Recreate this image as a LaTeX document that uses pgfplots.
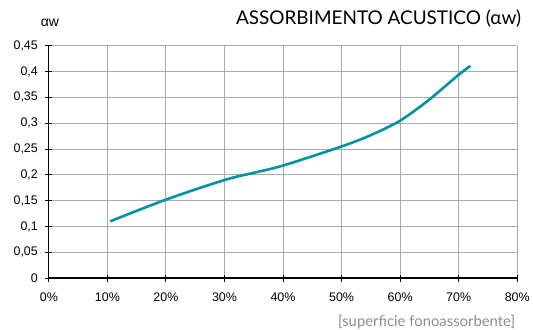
\documentclass[border=0pt]{standalone}
\usepackage{fontspec}
\setmainfont{Lato}
\newfontfamily\tickfont{Liberation Sans}
\usepackage{pgfplots}
\pgfplotsset{compat=1.18}
\usetikzlibrary{calc}
\definecolor{teal1}{RGB}{0,148,158}
\definecolor{gridg}{RGB}{170,170,170}
\begin{document}
\begin{tikzpicture}
\begin{axis}[
  scale only axis,
  width=470bp, height=233bp,
  xmin=0, xmax=80, ymin=0, ymax=0.45,
  xtick={0,10,...,80},
  ytick={0,0.05,...,0.46},
  axis x line=bottom, axis y line=left,
  axis line style={-, black, line width=1.2bp},
  grid=major,
  major grid style={gridg, line width=0.9bp},
  tick align=center,
  major tick length=7bp,
  tick style={black, line width=1bp},
  /pgf/number format/assume math mode=true,
  /pgf/number format/use comma,
  ticklabel style={font=\tickfont\fontsize{12.5bp}{14bp}\selectfont},
  xticklabel={\pgfmathprintnumber{\tick}\%},
  xticklabel style={yshift=-8bp},
  yticklabel style={/pgf/number format/fixed, xshift=-4bp},
  clip=false,
]
\addplot[teal1, line width=2.6bp, smooth, tension=0.5] coordinates {
(10.5,0.110) (20,0.152) (30,0.190) (35,0.204) (40,0.218) (50,0.255) (55,0.277) (60,0.305) (65,0.346) (70,0.394) (72,0.411)
};
\end{axis}
\node[anchor=base east, inner sep=0pt, font=\fontsize{19bp}{22bp}\selectfont] at ($(current axis.north east)+(4bp,21bp)$) {ASSORBIMENTO ACUSTICO (αw)};
\node[anchor=base, inner sep=0pt, font=\tickfont\fontsize{14bp}{16bp}\selectfont] at ($(current axis.north west)+(1bp,19bp)$) {αw};
\node[anchor=base east, inner sep=0pt, text={rgb,255:red,140;green,140;blue,140}, font=\fontsize{14.9bp}{17bp}\selectfont] at ($(current axis.south east)+(-2bp,-49bp)$) {[superficie fonoassorbente]};
\useasboundingbox ($(current axis.south west)+(-49bp,-52bp)$) rectangle ($(current axis.north east)+(14bp,46bp)$);
\end{tikzpicture}
\end{document}
